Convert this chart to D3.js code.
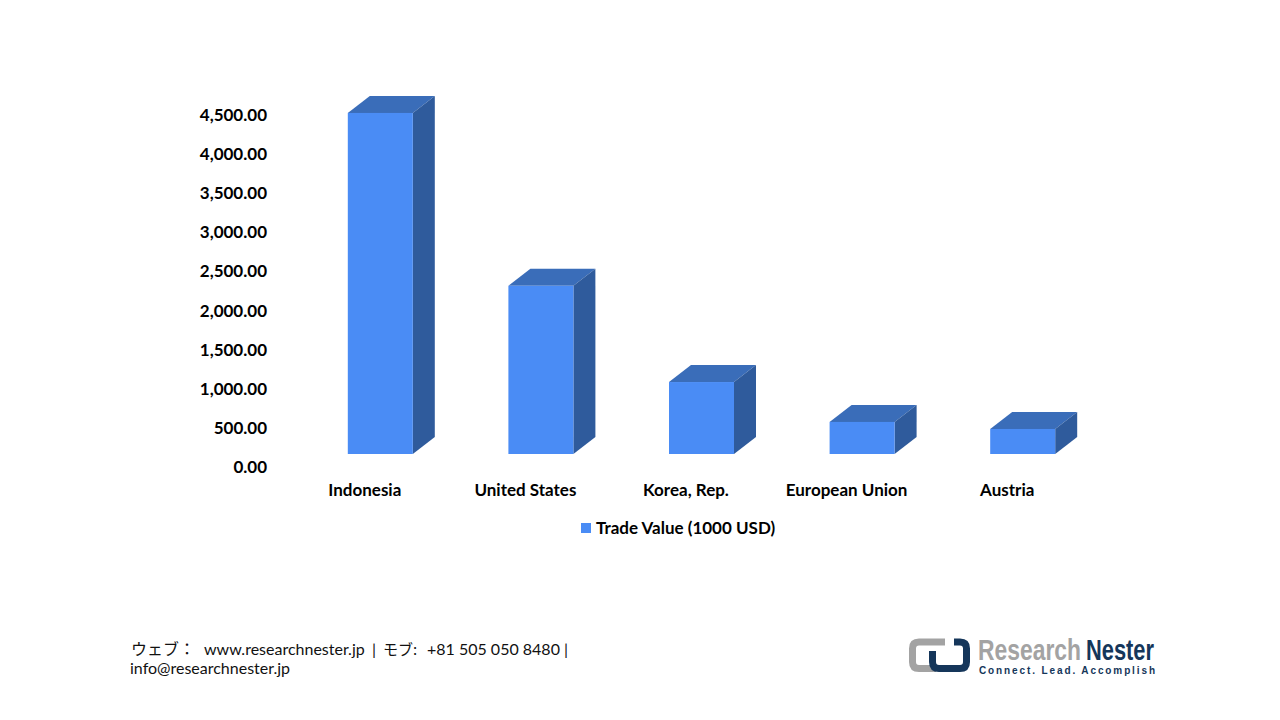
<!DOCTYPE html>
<html><head><meta charset="utf-8">
<script src="https://cdn.jsdelivr.net/npm/d3@7"></script>
<style>html,body{margin:0;background:#fff}svg{display:block}text{font-family:Lato,"Noto Sans",sans-serif}</style>
</head><body><div id="c"></div>
<script>
const categories = ["Indonesia","United States","Korea, Rep.","European Union","Austria"];
const tradeValues = [4360, 2150, 920, 410, 320];
const tickValues = [0,500,1000,1500,2000,2500,3000,3500,4000,4500];
const seriesName = "Trade Value (1000 USD)";

const svg = d3.select("#c").append("svg").attr("width",1280).attr("height",720);
const y = d3.scaleLinear().domain([0,4500]).range([467,115]);
const x = d3.scaleBand().domain(categories).range([284.5,1087.5]).paddingInner(0).paddingOuter(0);
const fmt = d3.format(",.2f");
const floorLift = 13, barW = 65, depthX = 22, depthY = 17, barShift = 15.5;

svg.append("g").selectAll("text").data(tickValues).join("text")
  .attr("x",267).attr("y",d=>y(d)+6).attr("text-anchor","end")
  .attr("font-size",17).attr("font-weight",700).attr("fill","#000").text(fmt);

const bars = svg.append("g").selectAll("g").data(categories.map((c,i)=>({c,v:tradeValues[i]}))).join("g");
const L = d=>x(d.c)+x.bandwidth()/2+barShift-barW/2, T = d=>y(d.v)-floorLift, B = ()=>y(0)-floorLift;
bars.append("path").attr("fill","#3A6DB9").attr("d",d=>{const l=L(d),t=T(d);
  return `M${l},${t}L${l+depthX},${t-depthY}H${l+barW+depthX}L${l+barW},${t}Z`;});
bars.append("path").attr("fill","#2F5B9C").attr("d",d=>{const r=L(d)+barW,t=T(d),b=B();
  return `M${r},${t}L${r+depthX},${t-depthY}V${b-depthY}L${r},${b}Z`;});
bars.append("rect").attr("fill","#4A8CF5").attr("x",L).attr("y",T).attr("width",barW).attr("height",d=>B()-T(d));

svg.append("g").selectAll("text").data(categories).join("text")
  .attr("x",d=>x(d)+x.bandwidth()/2).attr("y",496).attr("text-anchor","middle")
  .attr("font-size",17).attr("font-weight",700).attr("fill","#000").text(d=>d);

svg.append("rect").attr("x",581).attr("y",523).attr("width",10).attr("height",10).attr("fill","#4A8CF5");
svg.append("text").attr("x",596).attr("y",534).attr("font-size",17).attr("font-weight",700).attr("fill","#000").text(seriesName);

// footer
const jp='"Noto Sans CJK JP",sans-serif';
const f1=svg.append("text").attr("x",131).attr("y",655).attr("font-size",16).attr("fill","#111");
f1.append("tspan").style("font-family",jp).text("ウェブ： ");
f1.append("tspan").attr("x",204).text("www.researchnester.jp");
f1.append("tspan").attr("x",372).text("| ");
f1.append("tspan").attr("x",383).style("font-family",jp).attr("font-size",15).text("モブ:");
f1.append("tspan").attr("x",427).text("+81 505 050 8480 |");
svg.append("text").attr("x",130).attr("y",674).attr("font-size",16).attr("fill","#111").text("info@researchnester.jp");

// logo
const navy="#15365A", grey="#A3A3A3";
svg.append("path").attr("fill","none").attr("stroke",grey).attr("stroke-width",7)
  .attr("d","M945,642H919Q912.5,642,912.5,648.5V662Q912.5,668.5,919,668.5H936");
svg.append("path").attr("fill","none").attr("stroke",navy).attr("stroke-width",7)
  .attr("d","M954,642H960Q966.5,642,966.5,648.5V662Q966.5,668.5,960,668.5H939Q932.5,668.5,932.5,662V651");
svg.append("text").attr("x",978).attr("y",660).attr("font-size",30).attr("font-weight",700)
  .attr("textLength",103).attr("lengthAdjust","spacingAndGlyphs").style("font-family","'Liberation Sans Narrow','Liberation Sans'").attr("fill",grey).text("Research");
svg.append("text").attr("x",1086).attr("y",660).attr("font-size",30).attr("font-weight",700)
  .attr("textLength",68).attr("lengthAdjust","spacingAndGlyphs").style("font-family","'Liberation Sans Narrow','Liberation Sans'").attr("fill",navy).text("Nester");
svg.append("text").attr("x",979).attr("y",674).attr("font-size",10).attr("font-weight",700)
  .attr("textLength",176).style("font-family","'Liberation Sans'").attr("fill",navy).text("Connect. Lead. Accomplish");
</script></body></html>
